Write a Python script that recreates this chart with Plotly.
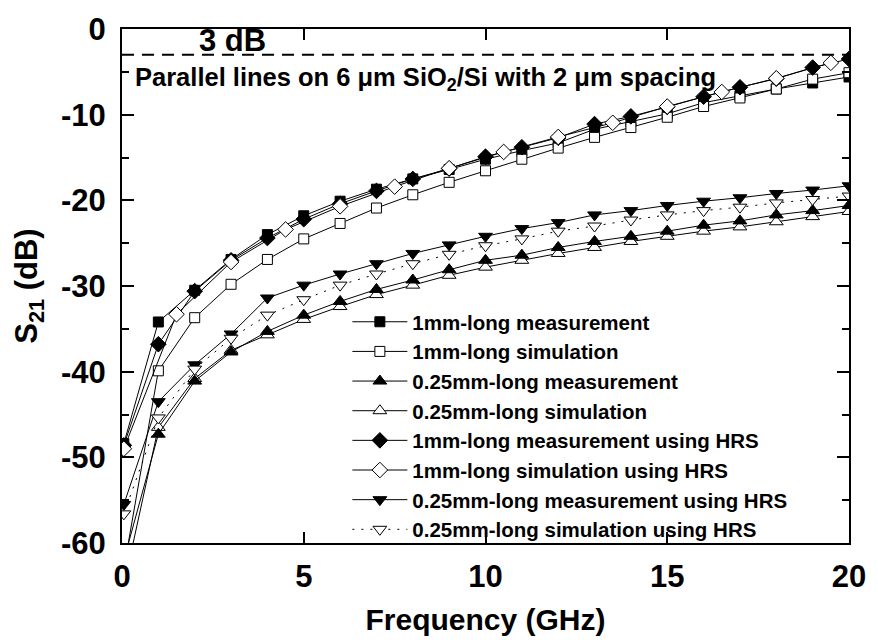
import plotly.graph_objects as go

# Frequency grids (GHz)
freq = [0.05, 1, 2, 3, 4, 5, 6, 7, 8, 9, 10, 11, 12, 13, 14, 15, 16, 17, 18, 19, 20]
freq_sim_hrs_1mm = [0.05, 1.5, 3, 4.5, 6, 7.5, 9, 10.5, 12, 13.5, 15, 16.5, 18, 19.5]

# S21 (dB)
meas_1mm = [-48.4, -34.2, -30.5, -26.9, -24.0, -21.8, -20.1, -18.7, -17.5, -16.4, -15.2,
            -14.2, -13.3, -11.7, -10.8, -9.9, -8.6, -7.8, -7.0, -6.3, -5.6]
sim_1mm = [-63.0, -39.9, -33.7, -29.8, -26.9, -24.5, -22.7, -20.9, -19.35, -17.9, -16.55,
           -15.2, -13.9, -12.65, -11.5, -10.3, -9.05, -8.05, -7.0, -5.85, -5.1]
meas_025mm = [-62.0, -47.3, -41.1, -37.7, -35.3, -33.4, -31.8, -30.4, -29.3, -28.1, -27.0,
              -26.4, -25.5, -24.8, -24.2, -23.6, -22.9, -22.4, -21.7, -21.2, -20.6]
sim_025mm = [-65.0, -46.5, -40.8, -37.5, -35.7, -33.9, -32.4, -31.0, -29.9, -28.75, -27.8,
             -27.0, -26.2, -25.5, -24.8, -24.2, -23.6, -23.1, -22.5, -21.9, -21.3]
meas_1mm_hrs = [-48.6, -36.8, -30.6, -27.0, -24.4, -22.2, -20.4, -18.9, -17.5, -16.3, -14.9,
                -13.8, -12.7, -11.1, -10.2, -9.1, -7.9, -6.8, -5.8, -4.5, -3.5]
sim_1mm_hrs = [-49.0, -33.3, -27.2, -23.4, -20.7, -18.4, -16.25, -14.35, -12.6, -10.95,
               -9.05, -7.35, -5.75, -3.95]
meas_025mm_hrs = [-55.5, -43.5, -39.2, -35.6, -31.4, -29.9, -28.6, -27.4, -26.2, -25.2, -24.2,
                  -23.3, -22.6, -21.7, -21.2, -20.6, -20.1, -19.7, -19.2, -18.8, -18.3]
sim_025mm_hrs = [-56.6, -45.4, -39.7, -36.1, -33.4, -31.6, -29.9, -28.6, -27.4, -26.3, -25.3,
                 -24.5, -23.6, -23.0, -22.3, -21.7, -21.2, -20.8, -20.3, -19.9, -19.5]

three_db = -3

x_ticks = [0, 5, 10, 15, 20]
x_tick_labels = ["0", "5", "10", "15", "20"]
y_ticks = [0, -10, -20, -30, -40, -50, -60]
y_tick_labels = ["0", "-10", "-20", "-30", "-40", "-50", "-60"]
y_minor_ticks = [-5, -15, -25, -35, -45, -55]

FONT = "Liberation Sans, Arial, sans-serif"

# (name, x, y, symbol, filled, legend rank, dash); listed in drawing order
series = [
    ("1mm-long measurement", freq, meas_1mm, "square", True, 1, "solid"),
    ("1mm-long simulation", freq, sim_1mm, "square", False, 2, "solid"),
    ("0.25mm-long simulation", freq, sim_025mm, "triangle-up", False, 4, "solid"),
    ("0.25mm-long measurement", freq, meas_025mm, "triangle-up", True, 3, "solid"),
    ("1mm-long measurement using HRS", freq, meas_1mm_hrs, "diamond", True, 5, "solid"),
    ("1mm-long simulation using HRS", freq_sim_hrs_1mm, sim_1mm_hrs, "diamond", False, 6, "solid"),
    ("0.25mm-long measurement using HRS", freq, meas_025mm_hrs, "triangle-down", True, 7, "solid"),
    ("0.25mm-long simulation using HRS", freq, sim_025mm_hrs, "triangle-down", False, 8, "2px,7px"),
]

sizes = {"square": 10, "diamond": 12, "triangle-up": 12, "triangle-down": 12}

fig = go.Figure()
for name, xs, ys, sym, filled, rank, dash in series:
    fig.add_trace(go.Scatter(
        x=xs, y=ys, name=name, mode="lines+markers",
        legendrank=rank, legendgroup=name,
        line=dict(color="black", width=1, dash=dash),
        marker=dict(symbol=sym, size=sizes[sym],
                    color="black" if filled else "white",
                    line=dict(color="black", width=1)),
    ))

# -3 dB reference line
fig.add_shape(type="line", xref="x", yref="y", x0=0, x1=20, y0=three_db, y1=three_db,
              line=dict(color="black", width=2, dash="12px,8px"))

fig.add_annotation(x=2.05, y=three_db, xref="x", yref="y", xanchor="left", yanchor="bottom",
                   text="3 dB", showarrow=False, yshift=-5,
                   font=dict(family=FONT, size=31, color="black", weight="bold"))
fig.add_annotation(x=0.3, y=-5.8, xref="x", yref="y", xanchor="left", yanchor="middle",
                   text="Parallel lines on 6 \u03bcm SiO<sub>2</sub>/Si with 2 \u03bcm spacing",
                   showarrow=False,
                   font=dict(family=FONT, size=25.5, color="black", weight="bold"))

fig.update_layout(
    width=878, height=643,
    margin=dict(l=122, r=21, t=22, b=93),
    paper_bgcolor="white", plot_bgcolor="white",
    font=dict(family=FONT, color="black", weight="bold"),
    showlegend=True,
    legend=dict(x=0.31, y=0.469, xanchor="left", yanchor="top",
                bgcolor="rgba(0,0,0,0)", borderwidth=0,
                itemwidth=55, tracegroupgap=0,
                font=dict(family=FONT, size=20.5, color="black", weight="bold")),
    xaxis=dict(range=[0, 20], tickvals=x_ticks, ticktext=x_tick_labels,
               ticks="inside", ticklen=11, tickwidth=2, tickcolor="black",
               showline=True, linewidth=2, linecolor="black", mirror="ticks",
               showgrid=False, zeroline=False, ticklabelstandoff=5,
               tickfont=dict(family=FONT, size=31, color="black", weight="bold"),
               title=dict(text="Frequency (GHz)", standoff=16,
                          font=dict(family=FONT, size=30, color="black", weight="bold"))),
    yaxis=dict(range=[-60, 0], tickvals=y_ticks, ticktext=y_tick_labels,
               ticks="inside", ticklen=12, tickwidth=2, tickcolor="black",
               minor=dict(tickvals=y_minor_ticks, ticks="inside",
                          ticklen=7, tickwidth=2, tickcolor="black"),
               showline=True, linewidth=2, linecolor="black", mirror="ticks",
               showgrid=False, zeroline=False, ticklabelstandoff=8,
               tickfont=dict(family=FONT, size=31, color="black", weight="bold"),
               title=dict(text="S<sub>21</sub> (dB)", standoff=14,
                          font=dict(family=FONT, size=31, color="black", weight="bold"))),
)

fig.write_html("out.html")
